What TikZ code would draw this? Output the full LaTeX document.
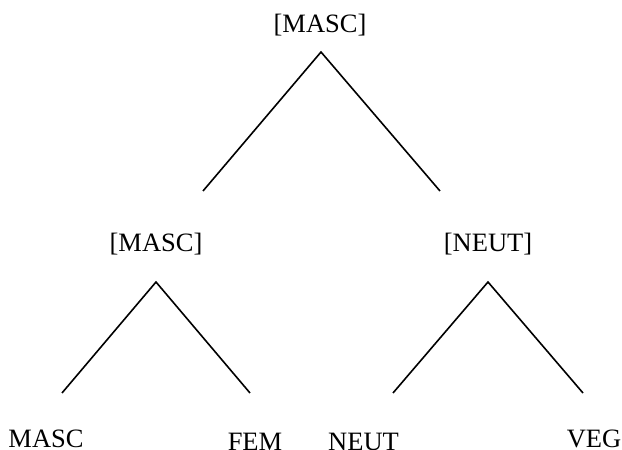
\documentclass[tikz,border=0pt]{standalone}
\usepackage{fontspec}
\setmainfont{Liberation Serif}
\begin{document}
\begin{tikzpicture}[x=1pt,y=1pt,
  lbl/.style={anchor=base,inner sep=0pt,font=\fontsize{26.5}{30}\selectfont},
  branch/.style={draw=black,line width=1.6pt}]
\useasboundingbox (0,0) rectangle (622,450);
\clip (0,0) rectangle (622,450);
% labels
\node[lbl] (root) at (320,417) {[MASC]};
\node[lbl] (lm) at (156,198) {[MASC]};
\node[lbl] (rn) at (488,198) {[NEUT]};
\node[lbl] (l1) at (46,2) {MASC};
\node[lbl] (l2) at (255,-0.5) {FEM};
\node[lbl] (l3) at (363.5,-0.5) {NEUT};
\node[lbl] (l4) at (594,2) {VEG};
% branch points
\coordinate (ra) at (321,398);
\coordinate (rl) at (203,259);
\coordinate (rr) at (440,259);
\coordinate (la) at (156,168);
\coordinate (ll) at (62,57);
\coordinate (lr) at (250,57);
\coordinate (na) at (488,168);
\coordinate (nl) at (393,57);
\coordinate (nr) at (583,57);
% branches
\draw[branch] (rl) -- (ra) -- (rr);
\draw[branch] (ll) -- (la) -- (lr);
\draw[branch] (nl) -- (na) -- (nr);
\end{tikzpicture}
\end{document}
